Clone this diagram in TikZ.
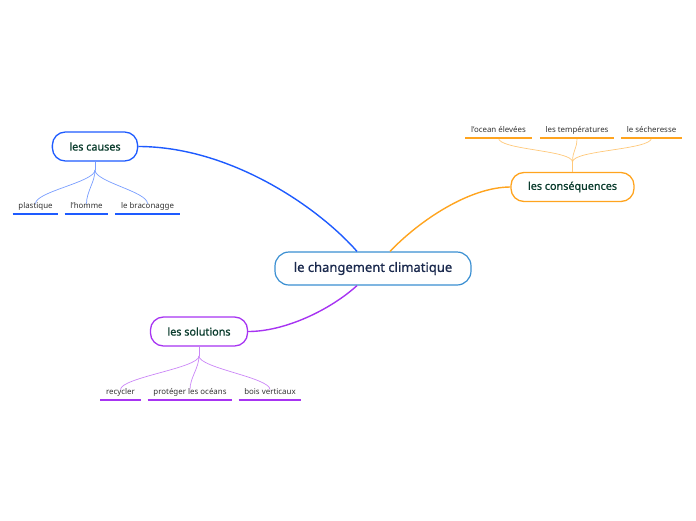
\documentclass[tikz,border=0pt]{standalone}
\usepackage{fontspec}
\setmainfont{Noto Sans}
\newfontfamily\medfont{Noto Sans}[FakeBold=0.9]
\usetikzlibrary{calc}
\definecolor{causeblue}{HTML}{1E5BFF}
\definecolor{consorange}{HTML}{FFA41F}
\definecolor{solpurple}{HTML}{A734F2}
\definecolor{mainborder}{HTML}{3A8FD2}
\definecolor{maintext}{HTML}{1B2A4E}
\definecolor{boxtext}{HTML}{0B3D2E}
\definecolor{leaftext}{HTML}{333333}
\tikzset{
	mainbox/.style={draw=mainborder, line width=1.2pt, fill=white, rounded corners=14pt, minimum width=196pt, minimum height=33pt, text=maintext, font=\medfont\fontsize{13}{15}\selectfont},
	topicbox/.style={draw=#1, line width=1.3pt, fill=white, rounded corners=13pt, minimum height=29pt, inner xsep=17pt, text=boxtext, font=\medfont\fontsize{10.8}{12}\selectfont},
	leaf/.style={text=leaftext, font=\fontsize{7.9}{9}\selectfont, inner xsep=5.5pt, inner ysep=4pt, text height=5.5pt, text depth=1.5pt, anchor=south},
	trunk/.style={draw=#1, line width=1.4pt},
	twig/.style={draw=#1!60, line width=0.7pt},
	uline/.style={draw=#1, line width=2pt},
}
\begin{document}
\begin{tikzpicture}[x=1pt, y=-1pt]
			%%%%% START %%%%%
			\useasboundingbox (0, 0) rectangle (696, 520);
			
			\node[mainbox] (main) at (373, 268.5) {le changement climatique};
			
			\node[topicbox=causeblue] (causes) at (95, 146.5) {les causes};
			\node[topicbox=consorange] (cons) at (572.5, 187) {les conséquences};
			\node[topicbox=solpurple] (sols) at (199, 331.5) {les solutions};
			
			\draw[trunk=causeblue] ([xshift=-16pt]main.north) .. controls (318, 207) and (230, 146.5) .. (causes.east);
			\draw[trunk=consorange] ([xshift=17pt]main.north) .. controls (420, 220) and (470, 187) .. (cons.west);
			\draw[trunk=solpurple] ([xshift=-16pt]main.south) .. controls (330, 310) and (285, 331.5) .. (sols.east);
			
			% causes
			\node[leaf] (plast) at (35.5, 214) {plastique};
			\node[leaf] (homme) at (86.5, 214) {l'homme};
			\node[leaf] (brac) at (147.5, 214) {le braconagge};
			\coordinate (hubc) at (95, 170);
			\draw[twig=causeblue] (causes.south) -- (hubc);
			\foreach \k in {plast, homme, brac} {
				\draw[twig=causeblue] (hubc) .. controls +(0, 12) and +(0, -12) .. ([yshift=-5pt]\k.north);
				\draw[uline=causeblue] (\k.south west) -- (\k.south east);
			}
			
			% consequences
			\node[leaf] (ocean) at (498.5, 138) {l'ocean élevées};
			\node[leaf] (temp) at (577, 138) {les températures};
			\node[leaf] (sech) at (651.5, 138) {le sécheresse};
			\coordinate (hubq) at (572.5, 162);
			\draw[twig=consorange] (cons.north) -- (hubq);
			\foreach \k in {ocean, temp, sech} {
				\draw[twig=consorange] (hubq) .. controls +(0, -12) and +(0, 12) .. (\k.south);
				\draw[uline=consorange] (\k.south west) -- (\k.south east);
			}
			
			% solutions
			\node[leaf] (recyc) at (120.5, 400) {recycler};
			\node[leaf] (proteg) at (190, 400) {protéger les océans};
			\node[leaf] (bois) at (270, 400) {bois verticaux};
			\coordinate (hubs) at (199, 356);
			\draw[twig=solpurple] (sols.south) -- (hubs);
			\foreach \k in {recyc, proteg, bois} {
				\draw[twig=solpurple] (hubs) .. controls +(0, 12) and +(0, -12) .. ([yshift=-5pt]\k.north);
				\draw[uline=solpurple] (\k.south west) -- (\k.south east);
			}
			%%%%% END %%%%%
\end{tikzpicture}
\end{document}
